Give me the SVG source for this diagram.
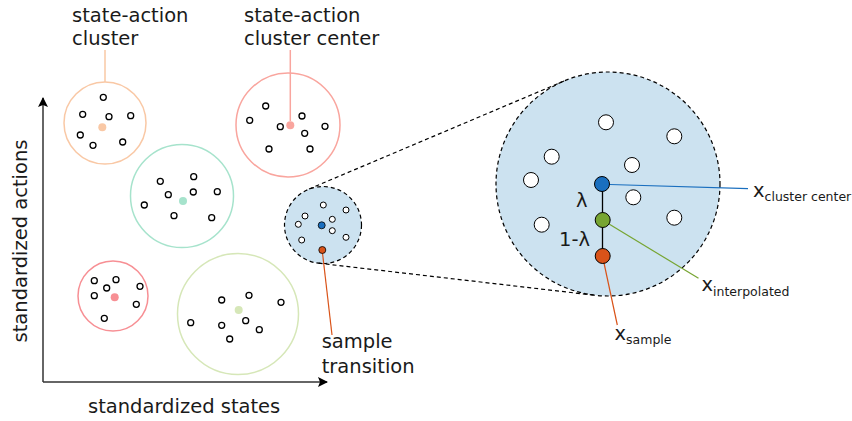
<svg xmlns="http://www.w3.org/2000/svg" width="852" height="421" viewBox="0 0 852 421">
<style>
text{font-family:"DejaVu Sans","Verdana",sans-serif;fill:#1a1a1a}
.lbl{font-size:19.5px}
.sub{font-size:12.5px}
.pt{fill:#fff;stroke:#000;stroke-width:1.3}
.bpt{fill:#fff;stroke:#000;stroke-width:1}
.dash{fill:none;stroke:#000;stroke-width:1.2;stroke-dasharray:4 3}
</style>
<defs>
<marker id="ah" viewBox="0 0 10 10" refX="9" refY="5" markerWidth="10" markerHeight="10" markerUnits="userSpaceOnUse" orient="auto">
<path d="M0,0 L10,5 L0,10 L2,5 z" fill="#000"/>
</marker>
</defs>
<g id="axes">
<line x1="43" y1="382" x2="43" y2="98" stroke="#333" stroke-width="1.5" marker-end="url(#ah)"/>
<line x1="43" y1="382" x2="327" y2="382" stroke="#333" stroke-width="1.5" marker-end="url(#ah)"/>
<text class="lbl" x="88" y="413">standardized states</text>
<text class="lbl" transform="translate(27,241) rotate(-90)" text-anchor="middle">standardized actions</text>
</g>
<g id="cluster-peach">
<circle cx="105" cy="123" r="41" fill="none" stroke="#f9c8a5" stroke-width="1.5"/>
<circle cx="102.3" cy="127.3" r="4" fill="#f9c8a5"/>
<circle class="pt" cx="103.3" cy="97.3" r="3"/>
<circle class="pt" cx="82.7" cy="114.3" r="3"/>
<circle class="pt" cx="109" cy="116.7" r="3"/>
<circle class="pt" cx="130.7" cy="115.7" r="3"/>
<circle class="pt" cx="80.3" cy="135" r="3"/>
<circle class="pt" cx="93" cy="145.3" r="3"/>
<circle class="pt" cx="122.7" cy="142" r="3"/>
</g>
<g id="label-cluster">
<line x1="105" y1="50" x2="105" y2="82" stroke="#f9c8a5" stroke-width="1.5"/>
<text class="lbl" x="72" y="22">state-action</text>
<text class="lbl" x="72" y="45">cluster</text>
</g>
<g id="cluster-salmon">
<circle cx="288" cy="125" r="52" fill="none" stroke="#f9a59e" stroke-width="1.5"/>
<circle cx="290.3" cy="125.3" r="4" fill="#f9a59e"/>
<circle class="pt" cx="265.7" cy="106" r="3"/>
<circle class="pt" cx="249.7" cy="120.3" r="3"/>
<circle class="pt" cx="280.3" cy="126.7" r="3"/>
<circle class="pt" cx="302" cy="116" r="3"/>
<circle class="pt" cx="304.7" cy="133.3" r="3"/>
<circle class="pt" cx="325" cy="126.3" r="3"/>
<circle class="pt" cx="269" cy="149" r="3"/>
<circle class="pt" cx="310" cy="149" r="3"/>
</g>
<g id="label-center">
<line x1="290.3" y1="50" x2="290.3" y2="121" stroke="#f9a59e" stroke-width="1.5"/>
<text class="lbl" x="244" y="22">state-action</text>
<text class="lbl" x="244" y="45">cluster center</text>
</g>
<g id="cluster-mint">
<circle cx="182" cy="196" r="51.5" fill="none" stroke="#a6e3cc" stroke-width="1.5"/>
<circle cx="183" cy="201" r="4" fill="#a6e3cc"/>
<circle class="pt" cx="160.3" cy="181.3" r="3"/>
<circle class="pt" cx="193.7" cy="176.7" r="3"/>
<circle class="pt" cx="168.3" cy="194.7" r="3"/>
<circle class="pt" cx="193.3" cy="192" r="3"/>
<circle class="pt" cx="217.3" cy="191.7" r="3"/>
<circle class="pt" cx="144.3" cy="205" r="3"/>
<circle class="pt" cx="174" cy="215.7" r="3"/>
<circle class="pt" cx="211.7" cy="217.7" r="3"/>
</g>
<g id="cluster-pink">
<circle cx="113" cy="296" r="35" fill="none" stroke="#f78f94" stroke-width="1.5"/>
<circle cx="114.7" cy="297.3" r="4" fill="#f78f94"/>
<circle class="pt" cx="94.3" cy="280.7" r="3"/>
<circle class="pt" cx="116" cy="279.7" r="3"/>
<circle class="pt" cx="106.7" cy="288" r="3"/>
<circle class="pt" cx="140" cy="286.3" r="3"/>
<circle class="pt" cx="94.3" cy="295.7" r="3"/>
<circle class="pt" cx="136.3" cy="304.3" r="3"/>
<circle class="pt" cx="104.3" cy="318.3" r="3"/>
</g>
<g id="cluster-lightgreen">
<circle cx="238" cy="314" r="60.5" fill="none" stroke="#d6e7b8" stroke-width="1.5"/>
<circle cx="238.7" cy="310" r="4" fill="#d6e7b8"/>
<circle class="pt" cx="221.7" cy="300" r="3"/>
<circle class="pt" cx="249" cy="295.3" r="3"/>
<circle class="pt" cx="281" cy="302.3" r="3"/>
<circle class="pt" cx="190.7" cy="322.7" r="3"/>
<circle class="pt" cx="221.7" cy="325.3" r="3"/>
<circle class="pt" cx="245.7" cy="320.7" r="3"/>
<circle class="pt" cx="259.3" cy="329.7" r="3"/>
<circle class="pt" cx="229.7" cy="339" r="3"/>
</g>
<g id="zoom-small">
<circle cx="323" cy="225" r="38.5" fill="#cce2f0" stroke="none"/>
<circle cx="323" cy="225" r="38.5" class="dash"/>
<circle class="bpt" cx="323.3" cy="205" r="3"/>
<circle class="bpt" cx="305" cy="216" r="3"/>
<circle class="bpt" cx="346" cy="210" r="3"/>
<circle class="bpt" cx="298.3" cy="224.3" r="3"/>
<circle class="bpt" cx="332.3" cy="219.3" r="3"/>
<circle class="bpt" cx="332.3" cy="230.7" r="3"/>
<circle class="bpt" cx="301.7" cy="240" r="3"/>
<circle class="bpt" cx="346" cy="237.3" r="3"/>
</g>
<g id="zoom-big">
<circle cx="608" cy="184" r="112" fill="#cce2f0" stroke="none"/>
<circle cx="608" cy="184" r="112" class="dash"/>
<circle class="bpt" cx="606" cy="122.3" r="7.5"/>
<circle class="bpt" cx="674.3" cy="136.3" r="7.5"/>
<circle class="bpt" cx="551.7" cy="156.7" r="7.5"/>
<circle class="bpt" cx="632" cy="165" r="7.5"/>
<circle class="bpt" cx="531" cy="180" r="7.5"/>
<circle class="bpt" cx="633.3" cy="197.3" r="7.5"/>
<circle class="bpt" cx="541.7" cy="224.7" r="7.5"/>
<circle class="bpt" cx="674.3" cy="217.7" r="7.5"/>
</g>
<g id="connectors">
<line class="dash" x1="309" y1="189" x2="564.3" y2="80.9"/>
<line class="dash" x1="318.6" y1="263.2" x2="595.1" y2="295.3"/>
<line x1="322.5" y1="253" x2="332" y2="335" stroke="#d95319" stroke-width="1.2"/>
<line x1="610" y1="184.5" x2="748" y2="188.7" stroke="#1a6fbf" stroke-width="1.2"/>
<line x1="609" y1="224" x2="698.5" y2="278.3" stroke="#77a532" stroke-width="1.2"/>
<line x1="604" y1="263" x2="617.3" y2="325" stroke="#d95319" stroke-width="1.2"/>
<line x1="602.5" y1="184" x2="602.5" y2="256" stroke="#000" stroke-width="1.3"/>
</g>
<g id="node-small-center">
<circle cx="321.7" cy="225.3" r="3.5" fill="#1a6fbf" stroke="#000" stroke-width="0.8"/>
</g>
<g id="node-small-sample">
<circle cx="322.3" cy="250" r="3.5" fill="#d95319" stroke="#000" stroke-width="0.8"/>
</g>
<g id="label-sample-transition">
<text class="lbl" x="321.7" y="348">sample</text>
<text class="lbl" x="321.7" y="373">transition</text>
</g>
<g id="label-lambda">
<text class="lbl" x="576" y="206.7">λ</text>
<text class="lbl" x="559" y="245.7">1-λ</text>
</g>
<g id="node-center">
<circle cx="602" cy="184" r="7.5" fill="#1a6fbf" stroke="#000" stroke-width="1"/>
</g>
<g id="node-interp">
<circle cx="602.7" cy="220" r="7.5" fill="#77a532" stroke="#000" stroke-width="1"/>
</g>
<g id="node-sample">
<circle cx="602.7" cy="256" r="7.5" fill="#d95319" stroke="#000" stroke-width="1"/>
</g>
<g id="label-xcenter">
<text x="753" y="196.5"><tspan class="lbl">x</tspan><tspan class="sub" dy="4">cluster center</tspan></text>
</g>
<g id="label-xinterp">
<text x="701.5" y="291"><tspan class="lbl">x</tspan><tspan class="sub" dy="5">interpolated</tspan></text>
</g>
<g id="label-xsample">
<text x="614.5" y="340"><tspan class="lbl">x</tspan><tspan class="sub" dy="3.5">sample</tspan></text>
</g>
</svg>
